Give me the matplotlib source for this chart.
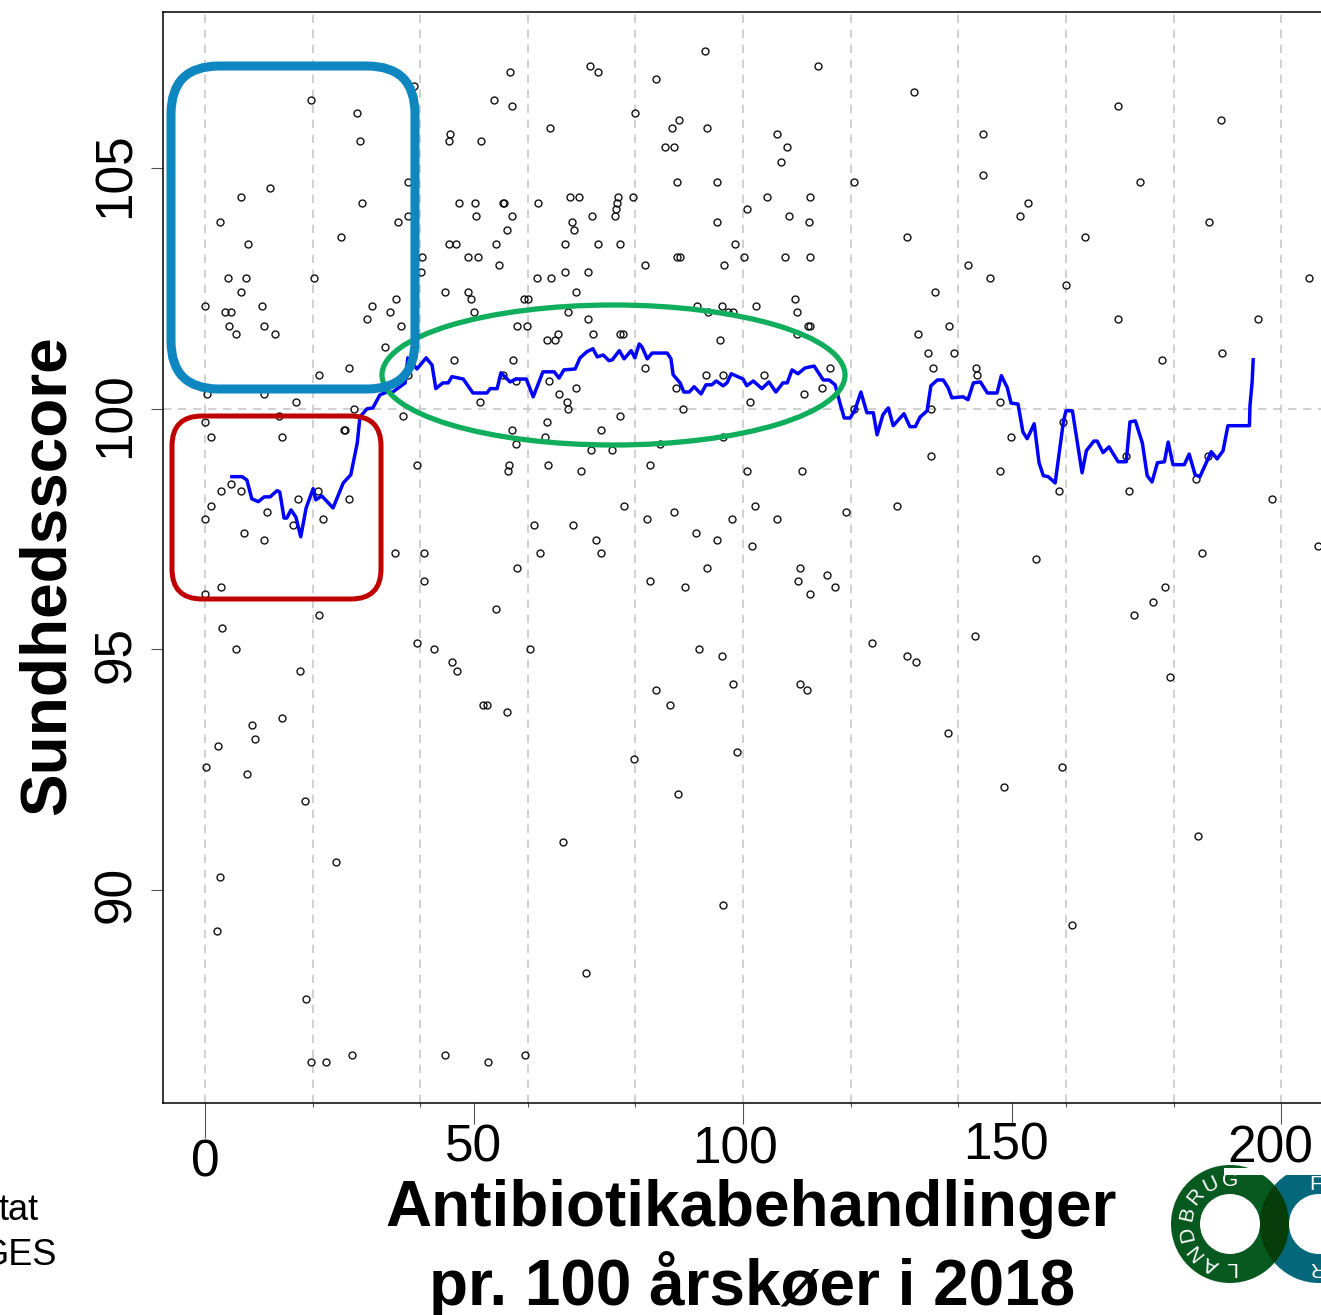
import matplotlib
matplotlib.use("Agg")
import matplotlib.pyplot as plt
import numpy as np
from matplotlib.patches import Ellipse, FancyBboxPatch, Rectangle, Wedge
from matplotlib.transforms import ScaledTranslation

plt.rcParams['font.family'] = ['Liberation Sans', 'DejaVu Sans']

# herds: one score level and the treatment counts seen at that level
score_levels = [107.44, 107.13, 107.01, 106.86, 106.72, 106.59, 106.42, 106.30, 106.15, 106.01,
                105.84, 105.72, 105.57, 105.45, 105.14, 104.86, 104.72, 104.59, 104.41, 104.28,
                104.16, 104.01, 103.89, 103.72, 103.58, 103.43, 103.16, 102.99, 102.85, 102.72,
                102.58, 102.43, 102.29, 102.14, 102.02, 101.87, 101.73, 101.56, 101.43, 101.29,
                101.16, 101.02, 100.85, 100.71, 100.58, 100.44, 100.31, 100.15, 100.00, 99.85,
                99.73, 99.56, 99.42, 99.27, 99.15, 99.02, 98.84, 98.71, 98.54, 98.44,
                98.30, 98.13, 97.98, 97.86, 97.71, 97.59, 97.42, 97.28, 97.15, 97.01,
                96.88, 96.69, 96.55, 96.42, 96.30, 96.15, 95.99, 95.84, 95.72, 95.45,
                95.28, 95.14, 95.01, 94.86, 94.74, 94.55, 94.43, 94.28, 94.16, 93.85,
                93.70, 93.58, 93.43, 93.26, 93.14, 92.99, 92.87, 92.72, 92.56, 92.41,
                92.14, 92.00, 91.85, 91.12, 91.00, 90.58, 90.27, 89.69, 89.27, 89.15,
                88.27, 87.73, 86.57, 86.42]
treatments_at_level = [
    [92.9], [71.6, 113.9], [73.0, 56.7], [83.8], [38.8], [131.8], [19.7, 53.7], [57.1, 169.7],
    [28.3, 79.9], [88.1, 188.8],
    [64.1, 86.8, 93.3], [106.3, 144.6, 45.5], [28.8, 45.4, 51.3], [85.5, 87.2, 108.2], [107.1], [144.6],
    [120.6, 173.8, 87.7, 95.2, 37.7], [12.1], [6.7, 67.8, 69.5, 76.8, 79.6, 104.5, 112.5],
    [29.2, 47.2, 50.2, 55.4, 55.6, 61.9, 76.6, 153.0],
    [76.4, 100.7], [37.7, 50.4, 57.1, 71.9, 76.2, 108.6, 151.5], [2.8, 35.9, 68.2, 95.2, 112.3, 186.6],
    [68.6, 56.1], [25.3, 130.5, 163.6], [8.0, 45.4, 46.7, 54.1, 66.9, 73.0, 77.1, 98.5],
    [40.3, 48.9, 50.7, 87.7, 88.3, 100.2, 107.8, 112.5], [96.5, 81.8, 141.8, 54.6], [40.1, 66.9, 71.2],
    [4.3, 7.6, 20.3, 61.7, 64.3, 145.9, 205.2],
    [160.0], [6.7, 69.0, 135.7, 44.6, 48.9], [35.5, 49.4, 59.3, 60.0, 109.7],
    [0.0, 10.6, 31.0, 91.4, 96.1, 102.4], [3.7, 4.8, 34.4, 50.0, 67.5, 93.5, 97.2, 98.1, 110.0],
    [30.1, 71.2, 169.7, 195.7], [4.5, 11.0, 36.4, 58.0, 59.9, 138.3, 112.1, 112.5],
    [5.8, 13.0, 65.6, 72.1, 77.1, 77.7, 110.0, 132.5], [63.6, 65.1, 95.7], [33.5],
    [134.4, 139.2, 189.0], [46.3, 57.2, 177.9], [26.8, 135.3, 81.8, 116.2, 143.3],
    [21.2, 37.7, 55.4, 93.1, 96.3, 103.9, 143.5], [57.8, 63.9], [69.0, 87.5, 114.7],
    [0.4, 11.0, 65.8, 111.3], [16.9, 51.1, 67.3, 101.3, 147.8], [27.7, 67.5, 88.8, 120.6, 134.9],
    [13.8, 36.8, 77.1],
    [0.0, 63.6, 159.5], [25.8, 26.0, 57.1, 73.6], [1.1, 14.3, 63.2, 96.3, 149.8], [57.8, 84.6],
    [71.7, 75.7], [134.9, 171.2, 186.4], [39.4, 56.5, 63.8, 82.7], [56.3, 69.9, 100.7, 111.0, 147.8],
    [184.2], [4.8],
    [3.0, 6.7, 21.0, 158.7, 171.7], [17.3, 26.8, 198.3], [1.1, 77.9, 102.2, 128.6], [11.5, 87.2, 119.1],
    [0.0, 21.9, 82.2, 98.0, 106.3], [16.4, 61.2, 68.4], [7.2, 91.3], [11.0, 72.7, 95.2], [101.7, 206.9],
    [35.3, 40.7, 62.3, 73.6, 185.3],
    [154.5], [58.0, 93.3, 110.6], [115.6], [40.7, 82.7, 110.2], [3.0, 89.2, 117.1, 178.4], [0.0, 112.5],
    [176.2], [54.1], [21.2, 172.7], [3.2],
    [143.1], [39.4, 124.0], [5.8, 42.6, 60.4, 91.8], [96.1, 130.5], [45.9, 132.2], [17.7, 46.8], [179.4],
    [98.1, 110.6], [83.8, 111.9], [86.4, 51.7, 52.4],
    [56.1], [14.3], [8.7], [138.1], [9.3], [2.4], [98.9], [79.7], [0.2, 159.3], [7.8],
    [148.5], [87.9], [18.6], [184.6], [66.5], [24.3], [2.8], [96.3], [161.2], [2.2],
    [70.8], [18.8], [27.3, 44.6, 59.5], [19.7, 22.5, 52.6],
]

# running mean
trend_x = [5.0, 6.9, 7.8, 8.7, 9.9, 11.0, 12.1, 13.4, 13.9, 14.7, 15.2, 16.0, 16.9, 17.8, 18.8, 20.1, 20.6,
           21.7, 23.8, 25.7, 27.1, 28.3, 28.8, 30.1, 31.2, 32.5, 33.8, 34.9, 37.2, 37.7, 39.4, 41.1, 42.2,
           42.9, 44.2, 45.2, 45.9, 48.0, 49.8, 52.4, 53.0, 54.3, 55.0, 56.7, 57.8, 59.7, 61.0, 62.8, 64.9,
           65.8, 66.7, 68.8, 69.7, 71.0, 72.1, 72.9, 74.0, 75.1, 75.7, 77.0, 77.9, 79.2, 79.9, 80.7, 81.2,
           82.2, 83.1, 85.9, 86.6, 87.0, 88.3, 89.0, 90.0, 90.9, 92.2, 93.1, 94.2, 95.0, 96.3, 97.0, 97.8,
           100.0, 100.7, 101.9, 103.5, 104.8, 106.1, 107.4, 108.2, 109.1, 110.2, 111.5, 113.2, 114.9, 116.0,
           117.1, 118.0, 118.8, 119.9, 120.8, 121.9, 123.0, 124.2, 124.9, 126.0, 127.0, 127.9, 129.9, 131.0,
           132.0, 132.9, 134.2, 134.9, 136.1, 137.2, 138.1, 138.8, 140.9, 141.8, 142.8, 144.1, 145.4, 147.2,
           148.0, 149.1, 149.8, 151.1, 152.0, 152.8, 154.1, 155.0, 155.8, 156.7, 158.0, 159.5, 160.0, 161.2,
           163.0, 163.8, 165.2, 165.8, 166.9, 168.0, 169.7, 171.2, 171.9, 172.9, 174.2, 175.1, 176.0, 177.0,
           178.3, 179.0, 179.9, 182.0, 182.9, 184.0, 184.9, 187.0, 188.1, 189.2, 190.1, 194.1, 194.2, 194.6,
           194.8]
trend_y = [98.59, 98.59, 98.52, 98.13, 98.07, 98.17, 98.17, 98.30, 98.27, 97.73, 97.73, 97.90, 97.75, 97.34,
           97.94, 98.34, 98.11, 98.19, 97.94, 98.46, 98.63, 99.29, 99.83, 100.00, 100.02, 100.29, 100.35,
           100.35, 100.54, 101.06, 100.83, 101.06, 100.91, 100.42, 100.54, 100.54, 100.67, 100.62, 100.33,
           100.33, 100.42, 100.42, 100.75, 100.56, 100.62, 100.62, 100.25, 100.77, 100.77, 100.64, 100.81,
           100.83, 101.06, 101.19, 101.25, 101.08, 101.12, 101.00, 101.02, 101.21, 101.04, 101.21, 101.06,
           101.35, 101.29, 101.04, 101.16, 101.16, 101.04, 100.71, 100.54, 100.35, 100.35, 100.46, 100.31,
           100.50, 100.50, 100.58, 100.48, 100.54, 100.73, 100.62, 100.48, 100.58, 100.42, 100.56, 100.35,
           100.54, 100.54, 100.81, 100.73, 100.85, 100.89, 100.60, 100.60, 100.50, 100.12, 99.81, 99.81,
           99.98, 100.35, 99.92, 99.92, 99.46, 99.88, 100.02, 99.65, 99.90, 99.63, 99.63, 99.83, 99.96,
           100.48, 100.60, 100.60, 100.44, 100.23, 100.25, 100.19, 100.54, 100.56, 100.33, 100.33, 100.69,
           100.44, 100.12, 100.10, 99.52, 99.38, 99.69, 98.88, 98.61, 98.59, 98.46, 99.71, 99.96, 99.96,
           98.67, 99.13, 99.33, 99.33, 99.09, 99.21, 98.90, 98.90, 99.73, 99.75, 99.29, 98.61, 98.48, 98.88,
           98.90, 99.31, 98.84, 98.84, 99.06, 98.63, 98.59, 99.11, 98.96, 99.13, 99.65, 99.65, 100.06, 100.56,
           101.02]

grid_x = [0, 20, 40, 60, 80, 100, 120, 140, 160, 180, 200]
x_ticks = [0, 50, 100, 150, 200]
y_ticks = [90, 95, 100, 105]
x_label = "Antibiotikabehandlinger\npr. 100 årskøer i 2018"
y_label = "Sundhedsscore"
logo_left = "LANDBRUG"

W, H = 1321, 1315
fig = plt.figure(figsize=(W / 100, H / 100), dpi=100)
ax = fig.add_axes([163 / W, 1 - 1103 / H, (W - 163) / W, (1103 - 12) / H])
ax.set_xlim(-7.8, 207.4)
ax.set_ylim(85.57, 108.25)

for g in grid_x:
    ax.axvline(g, color='#c8c8c8', lw=1.2, ls=(0, (5, 4)), zorder=1)
ax.axhline(100, color='#c8c8c8', lw=1.2, ls=(0, (5, 4)), zorder=1)

herd_x = np.concatenate([np.array(t, dtype=float) for t in treatments_at_level])
herd_y = np.repeat(score_levels, [len(t) for t in treatments_at_level])
ax.plot(herd_x, herd_y, 'o', mfc='none', mec='#111111', ms=5, mew=1.0, zorder=2)
ax.plot(trend_x, trend_y, color='#0000ff', lw=2.5, zorder=3)

ax.spines['right'].set_visible(False)
for s in ['left', 'top', 'bottom']:
    ax.spines[s].set_linewidth(1.1)

ax.set_xticks(x_ticks)
ax.set_xticks([g for g in grid_x if g not in x_ticks], minor=True)
ax.set_yticks(y_ticks)
ax.tick_params(axis='x', which='major', length=15, width=0.8, color='#555555', labelsize=37, pad=2)
ax.tick_params(axis='x', which='minor', length=3, width=0.8, color='#555555')
ax.tick_params(axis='y', length=9, width=0.8, color='#555555', labelsize=37, pad=7)
ax.xaxis.get_major_ticks()[0].tick1line.set_markersize(25)
for lab in ax.get_yticklabels():
    lab.set_rotation(90)
    lab.set_va('center')

# tick labels sit a bit off their ticks in the original
dx_px = [0, 0, -8, -6, -11]
dy_px = [-12, 3, 1, 5, 2]
for lab, dx, dy in zip(ax.get_xticklabels(), dx_px, dy_px):
    lab.set_transform(lab.get_transform() + ScaledTranslation(dx / 100, dy / 100, fig.dpi_scale_trans))
for lab, dy in zip(ax.get_yticklabels(), [-5, -5, -6, -7]):
    lab.set_transform(lab.get_transform() + ScaledTranslation(0, dy / 100, fig.dpi_scale_trans))

# overlay in pixel coordinates for annotations
over = fig.add_axes([0, 0, 1, 1], zorder=5)
over.set_xlim(0, W)
over.set_ylim(H, 0)
over.axis('off')

over.add_patch(Ellipse((613.5, 375), 463, 140, fc='none', ec='#10ae5c', lw=3.8, zorder=2))
over.add_patch(FancyBboxPatch((172 + 30, 416 + 30), 209 - 60, 183 - 60, boxstyle='round,pad=30,rounding_size=30',
                              fc='none', ec='#c00000', lw=3.6, zorder=3))
over.add_patch(FancyBboxPatch((171 + 48, 66 + 48), 244 - 96, 323 - 96, boxstyle='round,pad=48,rounding_size=48',
                              fc='none', ec='#0e86c0', lw=6.5, zorder=4))

over.text(751, 1209, x_label.split("\n")[0], fontsize=46, fontweight='bold', ha='center', va='center')
over.text(752, 1284, x_label.split("\n")[1], fontsize=46, fontweight='bold', ha='center', va='center')
over.text(48, 575, y_label, fontsize=46, fontweight='bold', rotation=90, ha='center', va='center')
over.text(39, 1220, "tat", fontsize=26, ha='right', va='baseline')
over.text(56, 1265, "GES", fontsize=26, ha='right', va='baseline')

# logo
green_c, teal_c = (1230, 1224), (1319, 1224)
outer, band = 59, 29
teal = Wedge(teal_c, outer, 0, 360, width=band, fc='#05687a', ec='none', zorder=6)
green = Wedge(green_c, outer, 0, 360, width=band, fc='#07591f', ec='none', zorder=6)
over.add_patch(teal)
over.add_patch(green)
dark = Wedge(green_c, outer, 0, 360, width=band, fc='#063d0b', ec='none', zorder=7)
over.add_patch(dark)
dark.set_clip_path(teal)
# top of the logo is cut flat in the original
teal.set_clip_path(Rectangle((1224, 1175), W - 1224, 140, transform=over.transData))
over.add_patch(Rectangle((1224, 1167.5), 70, 7.5, fc='white', ec='none', zorder=8))

for i, ch in enumerate(logo_left):
    th = np.deg2rad(270 - i * 180 / 7)
    over.text(green_c[0] + 44 * np.cos(th), green_c[1] - 44 * np.sin(th), ch, color='white', fontsize=15,
              rotation=270 - i * 180 / 7 - 90, ha='center', va='center', rotation_mode='anchor', zorder=9)
over.text(1316, 1184, "F", color='white', fontsize=15, ha='center', va='center', zorder=9)
over.text(1316, 1268, "R", color='white', fontsize=15, rotation=180, ha='center', va='center', zorder=9)

plt.savefig("out.png", dpi=100)
